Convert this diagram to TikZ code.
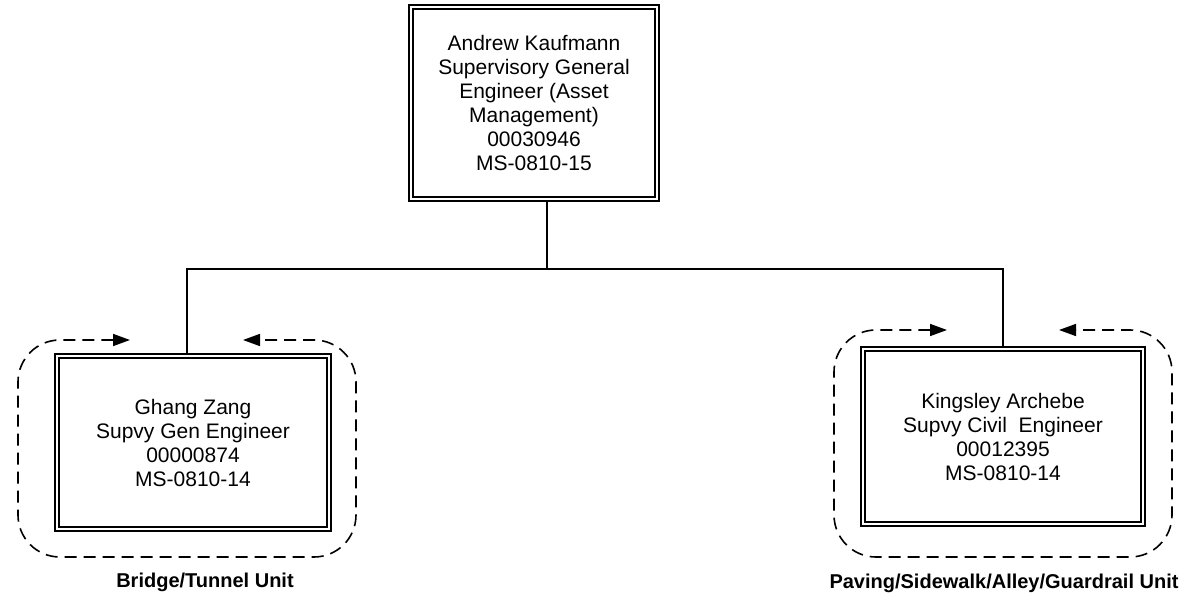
\documentclass[tikz,border=0pt]{standalone}
\usepackage{fontspec}
\setmainfont{Liberation Sans}
\usetikzlibrary{arrows.meta}

\begin{document}
\begin{tikzpicture}[
  x=1pt, y=-1pt,
  post/.style={draw, double, line width=1.7pt, double distance=2.8pt, align=center, inner sep=0pt, font=\fontsize{21}{24}\selectfont},
  link/.style={line width=1.8pt},
  unitloop/.style={dash pattern=on 12pt off 7pt, line width=1.6pt, rounded corners=42pt,
    arrows={Triangle[length=17pt,width=12pt]-Triangle[length=17pt,width=12pt]}},
  unit/.style={font=\fontsize{20}{24}\selectfont\bfseries}
]
  \useasboundingbox (0,0) rectangle (1196,601);

  % dashed unit outlines
  \draw[unitloop] (130,340) -- (18,340) -- (18,557) -- (356,557) -- (356,340) -- (243,340);
  \draw[unitloop] (947,330) -- (834,330) -- (834,557) -- (1172,557) -- (1172,330) -- (1059,330);

  \node[post, minimum width=246pt, minimum height=192pt] (kaufmann) at (534,103)
    {Andrew Kaufmann\\Supervisory General\\Engineer (Asset\\Management)\\00030946\\MS-0810-15};
  \node[post, minimum width=272pt, minimum height=173pt] (zang) at (193,442.5)
    {Ghang Zang\\Supvy Gen Engineer\\00000874\\MS-0810-14};
  \node[post, minimum width=280pt, minimum height=175pt] (archebe) at (1003,436.5)
    {Kingsley Archebe\\Supvy Civil~ Engineer\\00012395\\MS-0810-14};

  \node[unit, anchor=base] (bridge) at (205,587) {Bridge/Tunnel Unit};
  \node[unit, anchor=base] (paving) at (1004,588) {Paving/Sidewalk/Alley/Guardrail Unit};

  \coordinate (bus) at (547,269);
  \draw[link] (kaufmann.south -| bus) -- (bus);
  \draw[link] (bus) -| ([xshift=-6pt]zang.north);
  \draw[link] (bus) -| (archebe.north);
\end{tikzpicture}
\end{document}
